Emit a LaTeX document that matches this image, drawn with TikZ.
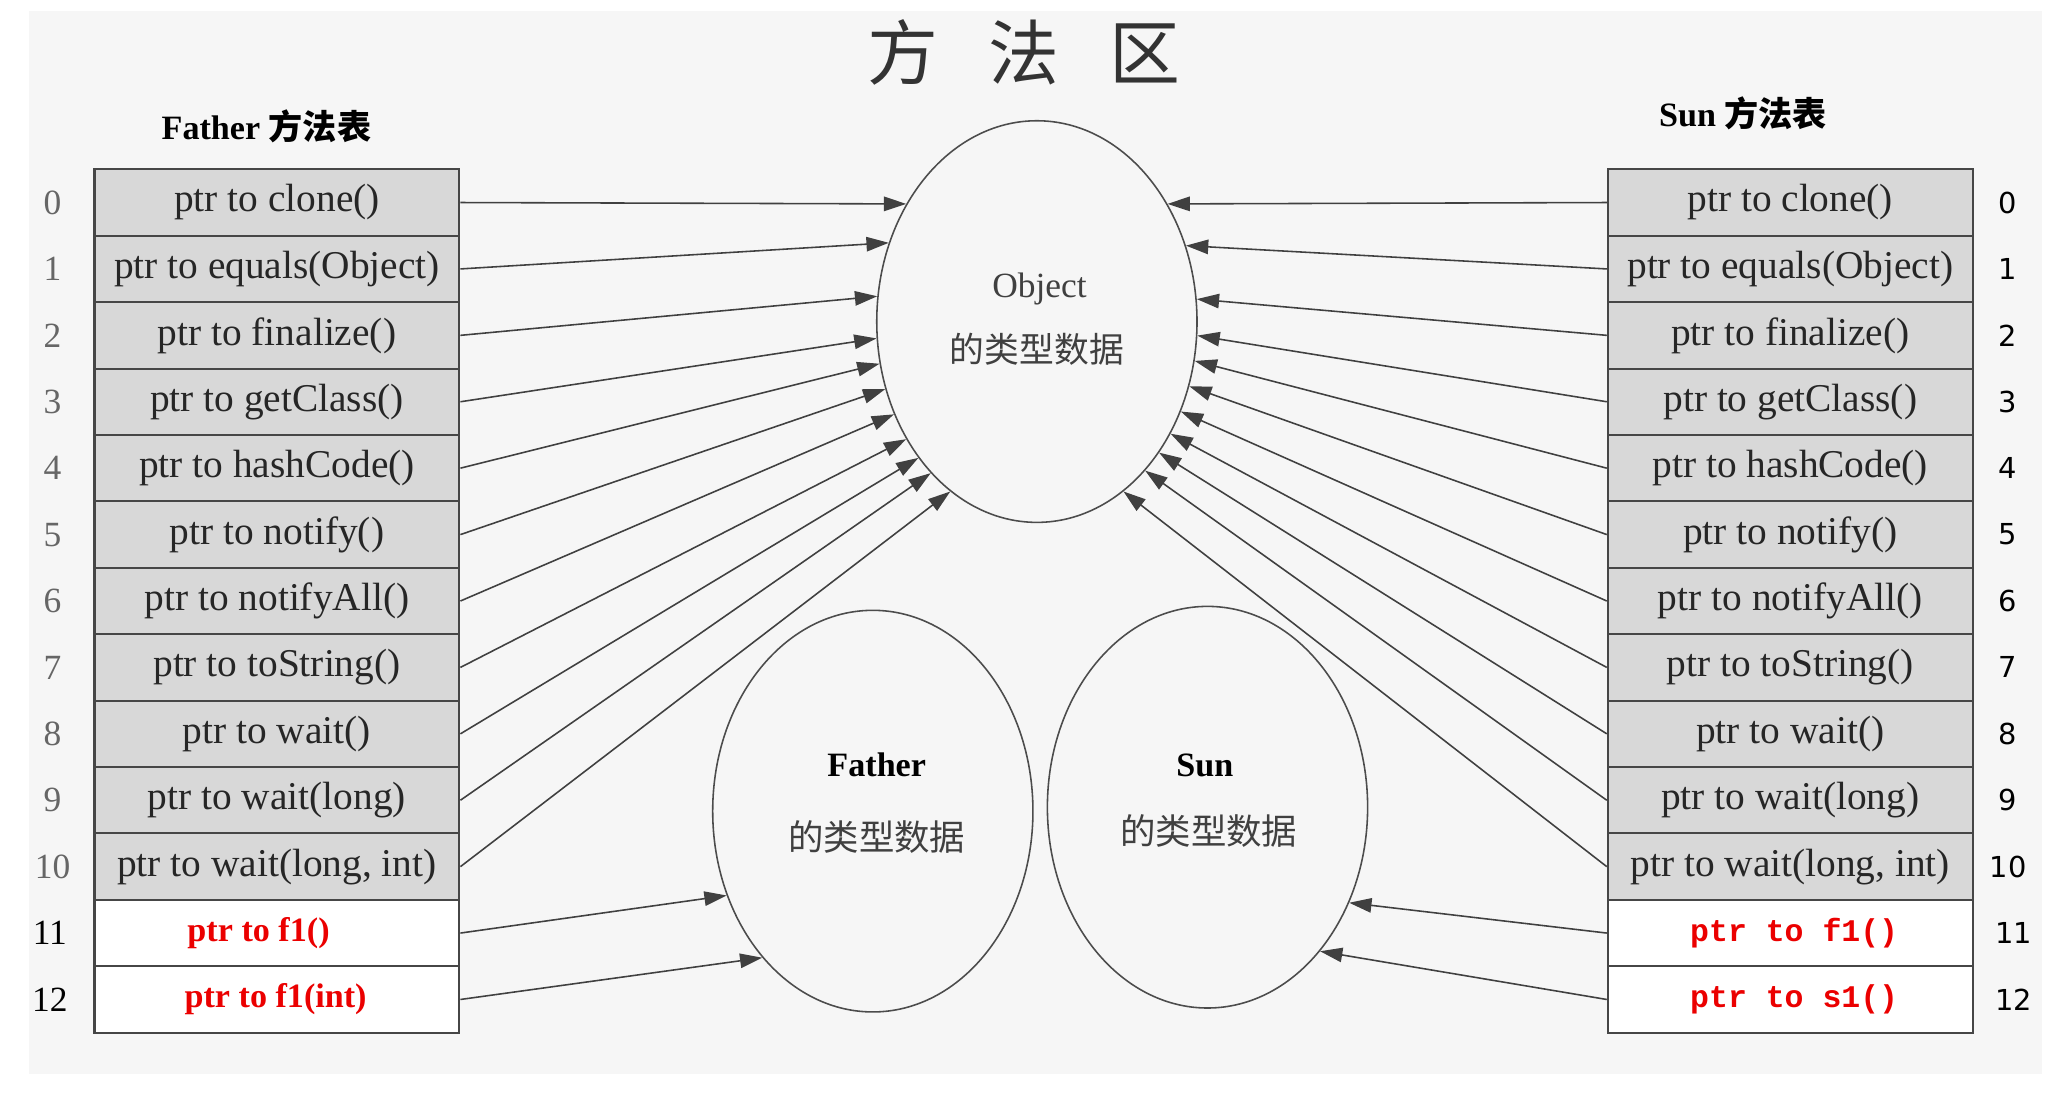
\documentclass[tikz,border=0pt]{standalone}
\usepackage{fontspec}
\setmainfont{Liberation Serif}
\newfontfamily\cjk{Noto Sans CJK SC}
\newfontfamily\numsans{DejaVu Sans}
\newfontfamily\monof{Liberation Mono}
\usetikzlibrary{shapes.geometric,arrows.meta}
\definecolor{bgc}{RGB}{246,246,246}
\definecolor{cellg}{RGB}{216,216,216}
\definecolor{linec}{RGB}{70,70,70}
\definecolor{redt}{RGB}{235,0,0}
\tikzset{
 cell/.style={draw=linec, line width=1.6pt, fill=cellg, minimum width=278pt, minimum height=50.6pt, inner sep=0pt, font=\fontsize{30}{32}\selectfont, text=black!85},
 newcell/.style={cell, fill=white},
 blob/.style={ellipse, draw=black!70, line width=1.2pt, minimum width=244pt, minimum height=306pt, inner sep=0pt},
 ptr/.style={draw=black!75, line width=1.2pt, -{Triangle[length=17pt,width=11pt]}},
 idxl/.style={font=\fontsize{27}{30}\selectfont, text=black!60},
 idxr/.style={font=\numsans\fontsize{22}{26}\selectfont, text=black},
 redl/.style={font=\fontsize{26}{30}\selectfont\bfseries, text=redt},
 redr/.style={font=\monof\fontsize{24}{30}\selectfont\bfseries, text=redt},
}
\begin{document}
\begin{tikzpicture}[x=1pt,y=-1pt]
\useasboundingbox (0,0) rectangle (1568,835);
\fill[white] (0,0) rectangle (1568,835);
\fill[bgc] (22,8) rectangle (1556,818);

\node[text=black!80] (title) at (780,40) {\cjk\fontsize{54}{60}\selectfont 方\hspace{38pt}法\hspace{38pt}区};
\node (fhead) at (203,96) {\fontsize{26}{28}\selectfont\bfseries Father {\cjk\bfseries 方法表}};
\node (shead) at (1328,86) {\fontsize{26}{28}\selectfont\bfseries Sun {\cjk\bfseries 方法表}};

% tables
\foreach \t [count=\i from 0] in {{ptr to clone()},{ptr to equals(Object)},{ptr to finalize()},{ptr to getClass()},{ptr to hashCode()},{ptr to notify()},{ptr to notifyAll()},{ptr to toString()},{ptr to wait()},{ptr to wait(long)},{ptr to wait(long, int)}}{
  \node[cell] (L\i) at (211,{154.3+50.6*\i}) {\t};
  \node[cell] (R\i) at (1364,{154.3+50.6*\i}) {\t};
  \node[idxl] (ln\i) at (40,{154.3+50.6*\i}) {\i};
  \node[idxr] (rn\i) at (1530,{154.3+50.6*\i}) {\i};
}
\node[newcell] (L11) at (211,{154.3+50.6*11}) {};
\node[newcell] (L12) at (211,{154.3+50.6*12}) {};
\node[newcell] (R11) at (1364,{154.3+50.6*11}) {};
\node[newcell] (R12) at (1364,{154.3+50.6*12}) {};
\node[redl] (L11t) at (197,{154.3+50.6*11}) {ptr to f1()};
\node[redl] (L12t) at (210,{154.3+50.6*12}) {ptr to f1(int)};
\node[redr] (R11t) at (1367,{154.3+50.6*11}) {ptr to f1()};
\node[redr] (R12t) at (1367,{154.3+50.6*12}) {ptr to s1()};
\node[idxl,text=black] (ln11) at (38,{154.3+50.6*11}) {11};
\node[idxl,text=black] (ln12) at (38,{154.3+50.6*12}) {12};
\node[idxr] (rn11) at (1534,{154.3+50.6*11}) {11};
\node[idxr] (rn12) at (1534,{154.3+50.6*12}) {12};

% ellipses
\node[blob] (obj) at (790,245) {};
\node[text=black!75, font=\fontsize{27}{30}\selectfont] (objt) at (792,220) {Object};
\node[text=black!75, font=\cjk\fontsize{26.5}{30}\selectfont] (objc) at (790,266) {的类型数据};

\node[blob] (fat) at (665,618) {};
\node[font=\fontsize{26}{28}\selectfont\bfseries] (fatt) at (668,583) {Father};
\node[text=black!75, font=\cjk\fontsize{27}{30}\selectfont] (fatc) at (668,638) {的类型数据};

\node[blob] (sun) at (920,615) {};
\node[font=\fontsize{26}{28}\selectfont\bfseries] (sunt) at (918,583) {Sun};
\node[text=black!75, font=\cjk\fontsize{27}{30}\selectfont] (sunc) at (921,633) {的类型数据};

% arrows to Object
\foreach \a [count=\i from 0] in {138,152,171,186,195,204,213,222,229,235,243}
  \draw[ptr] (L\i.east) -- (obj.\a);
\foreach \a [count=\i from 0] in {42,27,8,355,346,337,328,320,313,306,297}
  \draw[ptr] (R\i.west) -- (obj.\a);

% arrows to Father / Sun
\draw[ptr] (L11.east) -- (fat.210);
\draw[ptr] (L12.east) -- (fat.233);
\draw[ptr] (R11.west) -- (sun.326);
\draw[ptr] (R12.west) -- (sun.308);
\end{tikzpicture}
\end{document}
